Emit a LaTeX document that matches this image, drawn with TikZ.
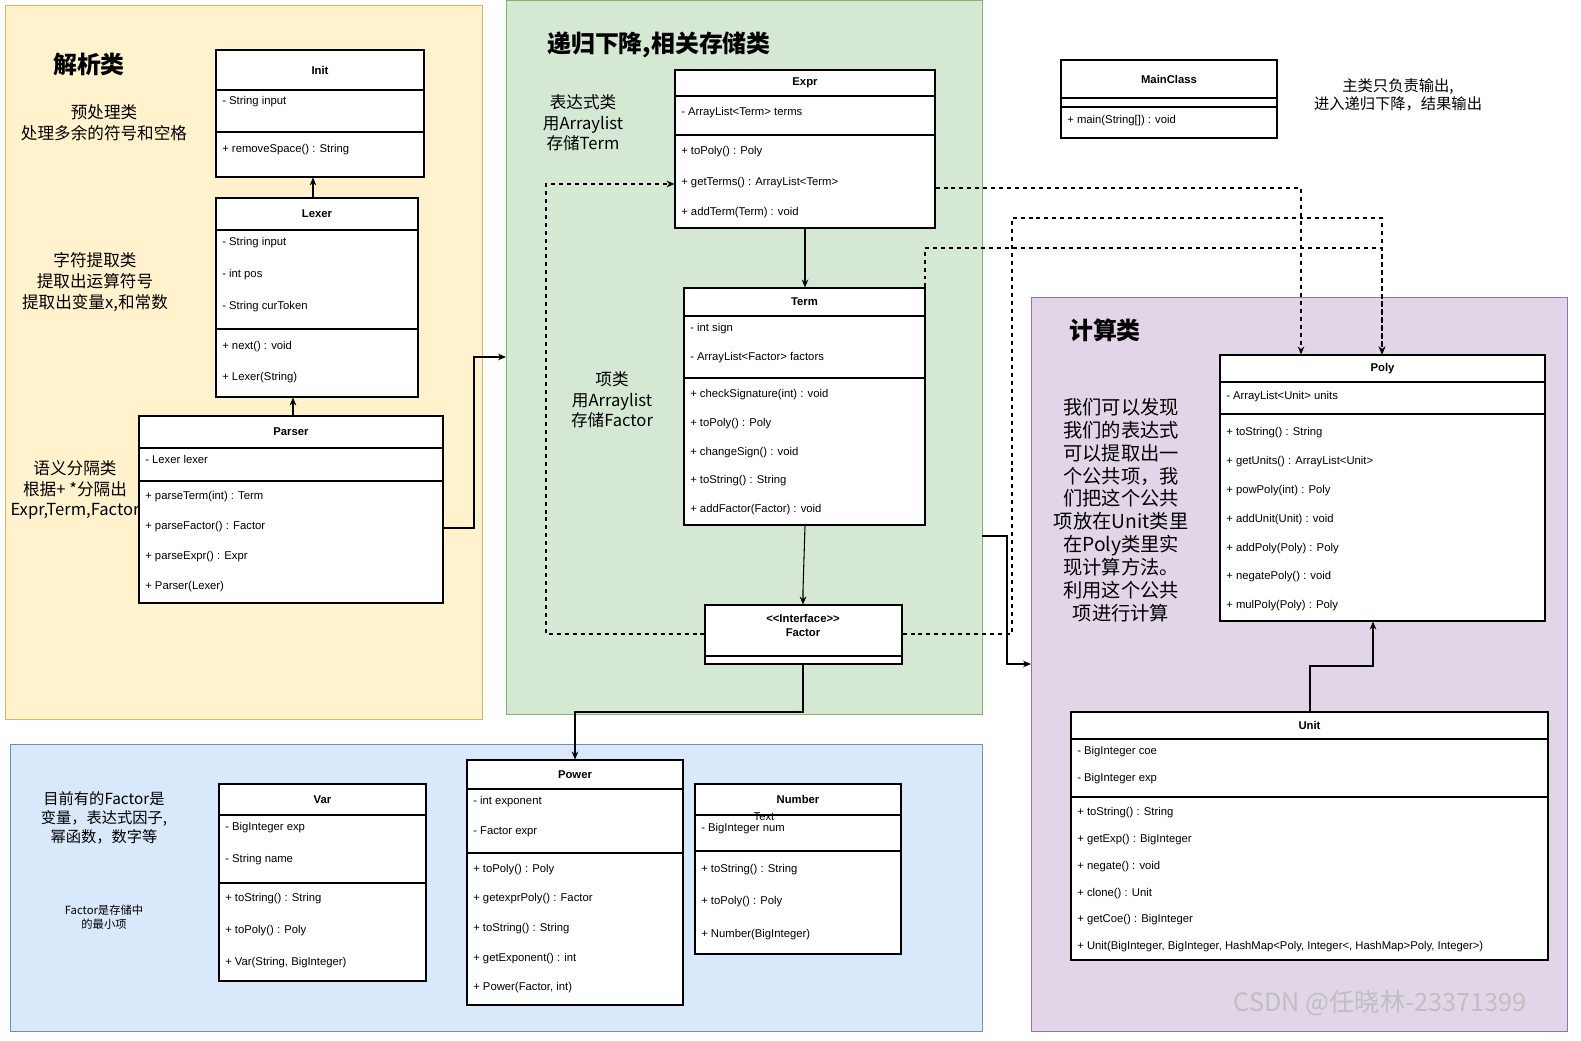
\documentclass[tikz,border=0pt]{standalone}
\usepackage{fontspec}
\setmainfont{Noto Sans CJK SC}
\newfontfamily\arialf{Liberation Sans}
\usetikzlibrary{fit,arrows.meta}
\definecolor{yel}{HTML}{FFF2CC}\definecolor{yelD}{HTML}{D6B656}
\definecolor{grn}{HTML}{D5E8D4}\definecolor{grnD}{HTML}{82B366}
\definecolor{blu}{HTML}{DAE8FC}\definecolor{bluD}{HTML}{6C8EBF}
\definecolor{pur}{HTML}{E1D5E7}\definecolor{purD}{HTML}{9673A6}
\tikzset{
 box/.style={draw=black,fill=white,line width=0.8pt,inner sep=0pt},
 mem/.style={anchor=west,inner sep=0pt,font=\arialf\fontsize{8.5}{10}\selectfont},
 ttl/.style={inner sep=0pt,font=\arialf\bfseries\fontsize{8.5}{10}\selectfont},
 lbl/.style={align=center,inner sep=0pt,font=\fontsize{12.5}{15.5}\selectfont},
 head/.style={inner sep=0pt,font=\bfseries\fontsize{18}{20}\selectfont},
 arr/.style={line width=0.8pt,-{Stealth[length=6pt,width=5pt]}},
 darr/.style={arr,dashed},
 region/.style={line width=0.6pt}
}
\newcommand\mkcls[8]{%
 \node[box,fit={(#2,#3)(#4,#5)}] (#1) {};
 \node[ttl] at ({(#2+#4)/2},{(#3+#7)/2}) {#6};
 \draw[line width=0.8pt] (#2,#7)--(#4,#7);
 \draw[line width=0.8pt] (#2,#8)--(#4,#8);}
\newcommand\mb[3]{\node[mem] at (#1+6,#2) {#3};}
\begin{document}
\begin{tikzpicture}[x=0.75bp,y=-0.75bp]
\useasboundingbox (0,0) rectangle (1581,1041);
\fill[white] (0,0) rectangle (1581,1041);
% regions
\draw[region,fill=yel,draw=yelD] (5,5) rectangle (482,719);
\draw[region,fill=grn,draw=grnD] (506,0.5) rectangle (982,714);
\draw[region,fill=blu,draw=bluD] (10,744) rectangle (982,1031);
\draw[region,fill=pur,draw=purD] (1031,297) rectangle (1567,1031);
% classes
\mkcls{init}{216}{50}{424}{177}{Init}{90}{132}
\mb{216}{102}{- String input}\mb{216}{150}{+ removeSpace() : String}
\mkcls{lexer}{216}{198}{418}{397}{Lexer}{230}{329}
\mb{216}{243}{- String input}\mb{216}{275}{- int pos}\mb{216}{307}{- String curToken}
\mb{216}{347}{+ next() : void}\mb{216}{378}{+ Lexer(String)}
\mkcls{parser}{139}{416}{443}{603}{Parser}{448}{481}
\mb{139}{459}{- Lexer lexer}
\mb{139}{497}{+ parseTerm(int) : Term}\mb{139}{527}{+ parseFactor() : Factor}
\mb{139}{557}{+ parseExpr() : Expr}\mb{139}{587}{+ Parser(Lexer)}
\mkcls{expr}{675}{70}{935}{228}{Expr}{96}{135}
\mb{675}{113}{- ArrayList<Term> terms}
\mb{675}{152}{+ toPoly() : Poly}\mb{675}{183}{+ getTerms() : ArrayList<Term>}\mb{675}{213}{+ addTerm(Term) : void}
\mkcls{term}{684}{288}{925}{525}{Term}{316}{378}
\mb{684}{329}{- int sign}\mb{684}{358}{- ArrayList<Factor> factors}
\mb{684}{395}{+ checkSignature(int) : void}\mb{684}{424}{+ toPoly() : Poly}
\mb{684}{453}{+ changeSign() : void}\mb{684}{481}{+ toString() : String}\mb{684}{510}{+ addFactor(Factor) : void}
\node[box,fit={(705,605)(902,664)}] (factor) {};
\node[ttl,align=center,font=\arialf\bfseries\fontsize{8.5}{10.5}\selectfont] at (803,625) {<{}<Interface>{}>\\Factor};
\draw[line width=0.8pt] (705,656)--(902,656);
\mkcls{main}{1061}{60}{1277}{138}{MainClass}{98}{107}
\mb{1061}{121}{+ main(String[]) : void}
\mkcls{poly}{1220}{355}{1545}{621}{Poly}{382}{414}
\mb{1220}{397}{- ArrayList<Unit> units}
\mb{1220}{433}{+ toString() : String}\mb{1220}{462}{+ getUnits() : ArrayList<Unit>}
\mb{1220}{491}{+ powPoly(int) : Poly}\mb{1220}{520}{+ addUnit(Unit) : void}
\mb{1220}{549}{+ addPoly(Poly) : Poly}\mb{1220}{577}{+ negatePoly() : void}\mb{1220}{606}{+ mulPoly(Poly) : Poly}
\mkcls{unit}{1071}{712}{1548}{960}{Unit}{739}{797}
\mb{1071}{752}{- BigInteger coe}\mb{1071}{779}{- BigInteger exp}
\mb{1071}{813}{+ toString() : String}\mb{1071}{840}{+ getExp() : BigInteger}
\mb{1071}{867}{+ negate() : void}\mb{1071}{894}{+ clone() : Unit}
\mb{1071}{920}{+ getCoe() : BigInteger}
\mb{1071}{947}{+ Unit(BigInteger, BigInteger, HashMap<Poly, Integer<, HashMap>Poly, Integer>)}
\mkcls{var}{219}{784}{426}{981}{Var}{815}{883}
\mb{219}{828}{- BigInteger exp}\mb{219}{860}{- String name}
\mb{219}{899}{+ toString() : String}\mb{219}{931}{+ toPoly() : Poly}\mb{219}{963}{+ Var(String, BigInteger)}
\mkcls{power}{467}{760}{683}{1005}{Power}{789}{853}
\mb{467}{802}{- int exponent}\mb{467}{832}{- Factor expr}
\mb{467}{870}{+ toPoly() : Poly}\mb{467}{899}{+ getexprPoly() : Factor}
\mb{467}{929}{+ toString() : String}\mb{467}{959}{+ getExponent() : int}\mb{467}{988}{+ Power(Factor, int)}
\mkcls{number}{695}{784}{901}{954}{Number}{815}{851}
\mb{695}{829}{- BigInteger num}
\mb{695}{870}{+ toString() : String}\mb{695}{902}{+ toPoly() : Poly}\mb{695}{935}{+ Number(BigInteger)}
\node[inner sep=0pt,font=\arialf\fontsize{8.5}{10}\selectfont] (txt) at (764,817) {Text};
% connectors
\coordinate (grnE) at (506,357);
\coordinate (purW) at (1031,664);
\coordinate (grnR) at (982,536);
\draw[arr] (lexer.north -| 313,0) -- (init.south -| 313,0);
\draw[arr] (parser.north -| 293,0) -- (lexer.south -| 293,0);
\draw[arr] (parser.east |- 0,528) -- (474,528) -- (474,357) -- (grnE);
\draw[arr] (expr.south -| 805,0) -- (term.north -| 805,0);
\draw[arr] (term.south -| 805,0) -- (803,590) -- (factor.north -| 803,0);
\draw[arr] (factor.south -| 803,0) -- (803,712) -- (575,712) -- (power.north -| 575,0);
\draw[darr] (factor.west |- 0,634) -- (546,634) -- (546,184) -- (expr.west |- 0,184);
\draw[darr] (expr.east |- 0,188) -- (1301,188) -- (poly.north -| 1301,0);
\draw[darr] (factor.east |- 0,634) -- (1012,634) -- (1012,218) -- (1382,218) -- (poly.north -| 1382,0);
\draw[darr] (term.north -| 925,0) -- (925,248) -- (1382,248) -- (poly.north -| 1382,0);
\draw[arr] (grnR) -- (1007,536) -- (1007,664) -- (purW);
\draw[arr] (unit.north -| 1310,0) -- (1310,666) -- (1373,666) -- (poly.south -| 1373,0);
% labels
\node[head] (h1) at (89,64) {解析类};
\node[head] (h2) at (659,45) {递归下降,相关存储类};
\node[head] (h3) at (1105,330) {计算类};
\node[lbl] (l1) at (104,123) {预处理类\\处理多余的符号和空格};
\node[lbl] (l2) at (95,282) {字符提取类\\提取出运算符号\\提取出变量x,和常数};
\node[lbl] (l3) at (75,490) {语义分隔类\\根据+ *分隔出\\Expr,Term,Factor};
\node[lbl] (l4) at (583,123) {表达式类\\用Arraylist\\存储Term};
\node[lbl] (l5) at (612,400) {项类\\用Arraylist\\存储Factor};
\node[lbl,font=\fontsize{11.5}{14}\selectfont] (l6) at (1398,95) {主类只负责输出,\\进入递归下降，结果输出};
\node[lbl,font=\fontsize{14.5}{17.2}\selectfont] (l7) at (1121,510) {我们可以发现\\我们的表达式\\可以提取出一\\个公共项，我\\们把这个公共\\项放在Unit类里\\在Poly类里实\\现计算方法。\\利用这个公共\\项进行计算};
\node[lbl,font=\fontsize{11.5}{14.5}\selectfont] (l8) at (104,818) {目前有的Factor是\\变量，表达式因子,\\幂函数，数字等};
\node[lbl,font=\fontsize{8.5}{10.5}\selectfont] (l9) at (104,917) {Factor是存储中\\的最小项};
\node[inner sep=0pt,text=black!25,font=\fontsize{19}{20}\selectfont] (wm) at (1380,1003) {CSDN @任晓林-23371399};
\end{tikzpicture}
\end{document}
